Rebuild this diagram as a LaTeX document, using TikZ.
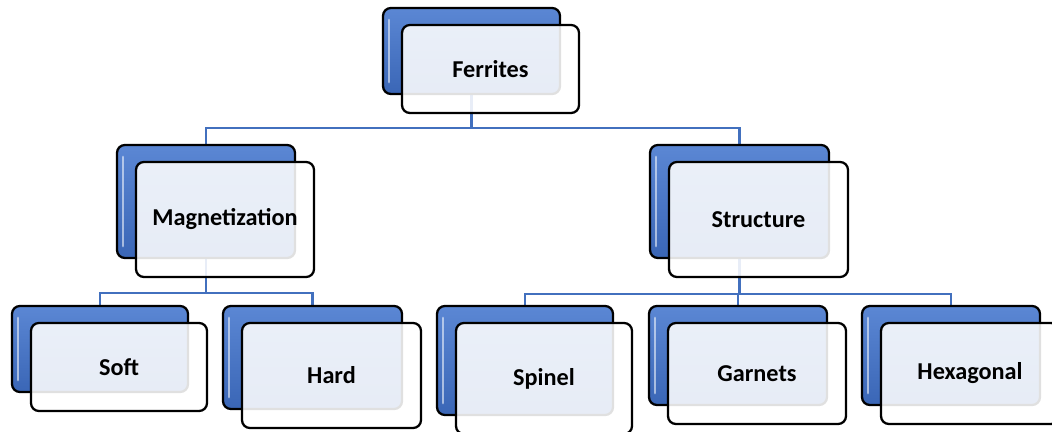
\documentclass[tikz,border=0pt]{standalone}
\usepackage{fontspec}
\setmainfont{Carlito}
\usetikzlibrary{positioning,shapes,arrows}

\definecolor{boxblue}{HTML}{3A66B6}
\definecolor{boxblueL}{HTML}{5B87D4}
\definecolor{linkblue}{HTML}{4270BE}

\pgfdeclarelayer{links}
\pgfsetlayers{links,main}

\def\pxu{0.02cm}

\tikzset{
    backbox/.style={draw=black, line width=1.3pt, rounded corners=4.5pt, inner sep=0pt,
        top color=boxblueL, bottom color=boxblue,
        path picture={
            \draw[white, opacity=0.55, line width=1.6pt, line cap=round]
                ([shift={(6,12)}]path picture bounding box.north west) --
                ([shift={(6,-12)}]path picture bounding box.south west);
        }},
    frontbox/.style={draw=black, line width=1.3pt, rounded corners=4.5pt, inner sep=0pt,
        fill=white, fill opacity=0.88, text opacity=1,
        font=\bfseries\fontsize{13.8}{16}\selectfont},
    link/.style={draw=linkblue, line width=1.5pt}
}

% back box, then the glass box in front of it
\newcommand{\tierbox}[6]{%
    \node[backbox, minimum width=#4*\pxu, minimum height=#5*\pxu] (#1back) at (#2,#3) {};
    \node[frontbox, minimum width=#4*\pxu, minimum height=(#5+2)*\pxu] (#1) at ([shift={(19,18)}]#1back.center) {#6};
}

\begin{document}
\begin{tikzpicture}[x=0.02cm, y=-0.02cm]
    \useasboundingbox (0,0) rectangle (1052,432);
    \clip (0,0) rectangle (1052,432);

    \tierbox{ferrites}{471.5}{51}{177}{86}{Ferrites}

    \tierbox{magnet}{206}{201.5}{178}{113}{Magnetization}
    \tierbox{structure}{739.5}{201.5}{179}{113}{Structure}

    \tierbox{soft}{100}{349}{176}{86}{Soft}
    \tierbox{hard}{312.5}{357.5}{179}{103}{Hard}
    \tierbox{spinel}{525}{360.5}{176}{109}{Spinel}
    \tierbox{garnets}{738}{355.5}{178}{99}{Garnets}
    \tierbox{hexagonal}{951}{355.5}{178}{99}{Hexagonal}

    \begin{pgfonlayer}{links}
        \draw[link] (ferritesback.south) -- ++(0,33) -| (magnetback.north);
        \draw[link] (ferritesback.south) -- ++(0,33) -| (structureback.north);

        \draw[link] (magnetback.south) -- ++(0,34) -| (softback.north);
        \draw[link] (magnetback.south) -- ++(0,34) -| (hardback.north);

        \draw[link] (structureback.south) -- ++(0,35) -| (spinelback.north);
        \draw[link] (structureback.south) -- ++(0,35) -| (garnetsback.north);
        \draw[link] (structureback.south) -- ++(0,35) -| (hexagonalback.north);
    \end{pgfonlayer}
\end{tikzpicture}
\end{document}
